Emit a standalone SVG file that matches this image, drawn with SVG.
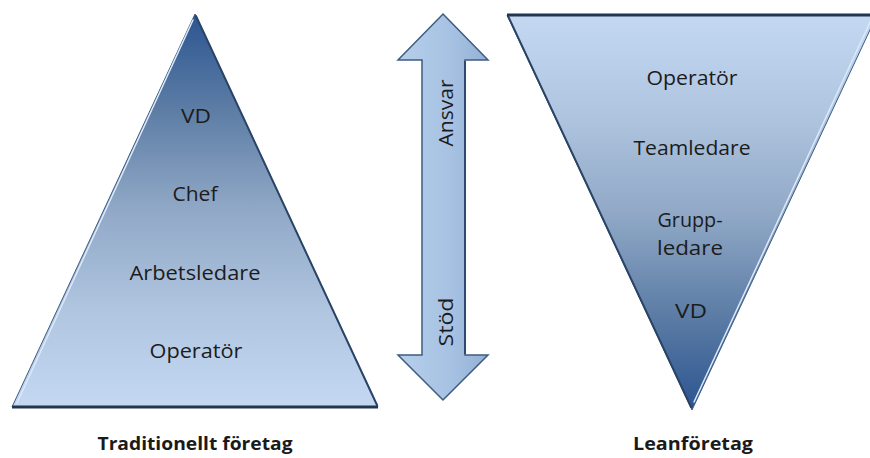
<svg xmlns="http://www.w3.org/2000/svg" width="870" height="458" viewBox="0 0 870 458">
<style>
.lbl{font-family:"Open Sans","Liberation Sans",sans-serif;font-size:20px;fill:#1c1c1c;text-anchor:middle}
.cap{font-family:"Open Sans","Liberation Sans",sans-serif;font-size:18px;font-weight:bold;fill:#1a1a1a;text-anchor:middle}
.dark{stroke:#2a4466;stroke-width:2;fill:none;stroke-linecap:round}
.light{stroke:#dce9f8;stroke-width:1.5;fill:none;stroke-linecap:round}
</style>
<defs>
<linearGradient id="gUp" x1="0" y1="14" x2="0" y2="408" gradientUnits="userSpaceOnUse">
<stop offset="0" stop-color="#2c5590"/>
<stop offset="0.25" stop-color="#5e7ea6"/>
<stop offset="0.5" stop-color="#91a9c7"/>
<stop offset="0.75" stop-color="#afc5e0"/>
<stop offset="1" stop-color="#c4d8f2"/>
</linearGradient>
<linearGradient id="gDown" x1="0" y1="15" x2="0" y2="410" gradientUnits="userSpaceOnUse">
<stop offset="0" stop-color="#c4d8f2"/>
<stop offset="0.25" stop-color="#afc5e0"/>
<stop offset="0.5" stop-color="#91a9c7"/>
<stop offset="0.75" stop-color="#5e7ea6"/>
<stop offset="1" stop-color="#2c5590"/>
</linearGradient>
<linearGradient id="gArrow" x1="398" y1="0" x2="488" y2="0" gradientUnits="userSpaceOnUse">
<stop offset="0" stop-color="#b6cfec"/>
<stop offset="0.6" stop-color="#a6c1e2"/>
<stop offset="1" stop-color="#93b0d4"/>
</linearGradient>
</defs>

<g id="traditional">
<polygon points="195,14 378,407 12,407" fill="url(#gUp)" stroke="#3d5c84" stroke-width="1"/>
<line class="light" x1="193" y1="20" x2="17" y2="403"/>
<line class="dark" x1="196" y1="16" x2="377" y2="405"/>
<line x1="12" y1="407" x2="378" y2="407" stroke="#22364f" stroke-width="3"/>
<text class="lbl" x="196" y="123" textLength="30" lengthAdjust="spacingAndGlyphs">VD</text>
<text class="lbl" x="195" y="201" textLength="45" lengthAdjust="spacingAndGlyphs">Chef</text>
<text class="lbl" x="195" y="280" textLength="131" lengthAdjust="spacingAndGlyphs">Arbetsledare</text>
<text class="lbl" x="196" y="358" textLength="93" lengthAdjust="spacingAndGlyphs">Operatör</text>
</g>

<g id="lean">
<polygon points="507,15 877,15 692,410" fill="url(#gDown)" stroke="#3d5c84" stroke-width="1"/>
<line class="dark" x1="508" y1="16" x2="691" y2="407"/>
<line class="light" x1="872" y1="18" x2="694" y2="402"/>
<line x1="507" y1="15" x2="877" y2="15" stroke="#22364f" stroke-width="3"/>
<text class="lbl" x="692" y="85" textLength="91" lengthAdjust="spacingAndGlyphs">Operatör</text>
<text class="lbl" x="692" y="155" textLength="117" lengthAdjust="spacingAndGlyphs">Teamledare</text>
<text class="lbl" x="690" y="227" textLength="65" lengthAdjust="spacingAndGlyphs">Grupp-</text>
<text class="lbl" x="690" y="255" textLength="66" lengthAdjust="spacingAndGlyphs">ledare</text>
<text class="lbl" x="691" y="318" textLength="32" lengthAdjust="spacingAndGlyphs">VD</text>
</g>

<g id="connectors">
<g id="arrow">
<polygon points="443,14 488,60 465,60 465,355 488,355 443,400 398,355 422,355 422,60 398,60" fill="url(#gArrow)" stroke="#3e5b80" stroke-width="1.5" stroke-linejoin="miter"/>
<line x1="465" y1="61" x2="465" y2="354" stroke="#2f4a6c" stroke-width="2"/>
<text class="lbl" transform="translate(453,113) rotate(-90)" x="0" y="0" textLength="67" lengthAdjust="spacingAndGlyphs">Ansvar</text>
<text class="lbl" transform="translate(453,322) rotate(-90)" x="0" y="0" textLength="49" lengthAdjust="spacingAndGlyphs">Stöd</text>
</g>
</g>

<text class="cap" x="195" y="450" textLength="195" lengthAdjust="spacingAndGlyphs">Traditionellt företag</text>
<text class="cap" x="693" y="450" textLength="120" lengthAdjust="spacingAndGlyphs">Leanföretag</text>
</svg>
